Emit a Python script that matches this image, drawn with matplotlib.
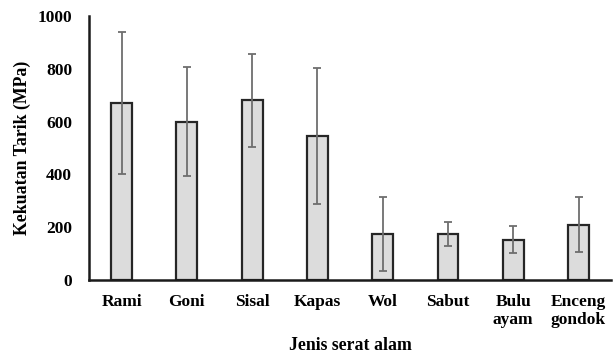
import numpy as np
import matplotlib.pyplot as plt

plt.rcParams['font.family'] = ['Liberation Serif', 'DejaVu Serif']
plt.rcParams['font.weight'] = 'bold'

serat = ['Rami', 'Goni', 'Sisal', 'Kapas', 'Wol', 'Sabut', 'Bulu\nayam', 'Enceng\ngondok']
kekuatan = [670, 600, 680, 545, 175, 175, 153, 210]
sd = [270, 205, 175, 257, 140, 46, 52, 105]

fig = plt.figure(figsize=(6.13, 3.56), dpi=100)
ax = fig.add_axes([0.145, 0.2135, 0.852, 0.7415])

x = np.arange(len(serat))
ax.bar(x, kekuatan, width=0.32, color='#dcdcdc', edgecolor='#262626', linewidth=1.6, zorder=2)
ax.errorbar(x, kekuatan, yerr=sd, fmt='none', ecolor='#6e6e6e', elinewidth=1.3,
            capsize=3, capthick=1.3, zorder=3)

ax.set_xlim(-0.5, len(serat) - 0.5)
ax.set_ylim(0, 1000)
ax.set_yticks(range(0, 1001, 200))
ax.set_xticks(x)
ax.set_xticklabels(serat, fontsize=12.5, fontweight='bold', linespacing=1.2)
ax.tick_params(axis='both', length=0, labelsize=12.5)
ax.tick_params(axis='x', pad=10)
ax.tick_params(axis='y', pad=12)

for s in ['top', 'right']:
    ax.spines[s].set_visible(False)
for s in ['left', 'bottom']:
    ax.spines[s].set_linewidth(1.8)
    ax.spines[s].set_color('#1a1a1a')

ax.set_xlabel('Jenis serat alam', fontsize=12.8, fontweight='bold', labelpad=6)
ax.set_ylabel('Kekuatan Tarik (MPa)', fontsize=12.8, fontweight='bold', labelpad=5)

fig.savefig('out.png', dpi=100)
